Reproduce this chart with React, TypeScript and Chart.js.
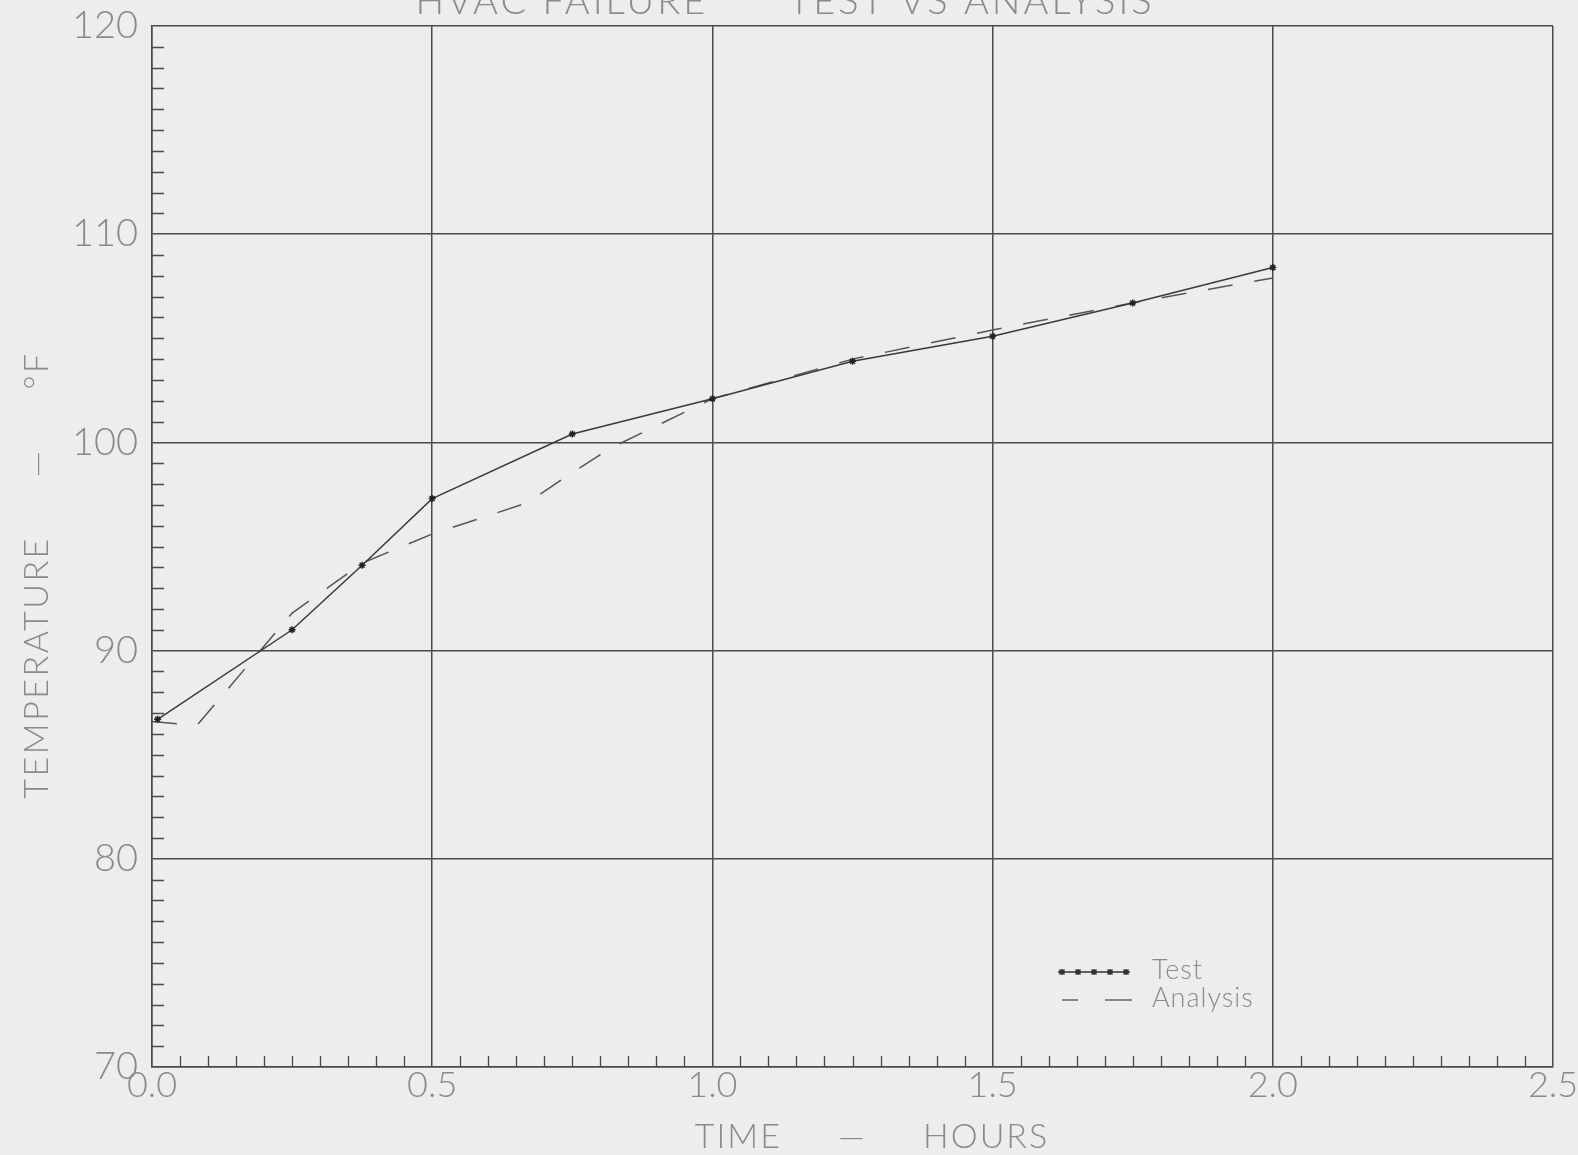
import React, { useEffect, useRef } from "react";
import { Chart, registerables } from "chart.js";

Chart.register(...registerables);

// ---- data ----
const testTime = [0.01, 0.25, 0.375, 0.5, 0.75, 1.0, 1.25, 1.5, 1.75, 2.0];
const testTemp = [86.7, 91.0, 94.1, 97.3, 100.4, 102.1, 103.9, 105.1, 106.7, 108.4];

const analysisTime = [0.0, 0.08, 0.25, 0.375, 0.5, 0.67, 0.75, 0.82, 1.0, 1.25, 1.5, 1.75, 2.0];
const analysisTemp = [86.6, 86.4, 91.8, 94.2, 95.6, 97.1, 98.55, 99.75, 102.1, 104.0, 105.4, 106.7, 107.9];

const xRange = [0, 2.5];
const xStep = 0.5;
const xMinorStep = 0.05;
const yRange = [70, 120];
const yStep = 10;
const yMinorStep = 1;

const titleText = "HVAC FAILURE      TEST VS ANALYSIS";
const xTitleText = "TIME     —     HOURS";
const yTitleText = "TEMPERATURE     —     °F";
const seriesNames = ["Test", "Analysis"];

const FONT = "Lato, 'Open Sans', 'DejaVu Sans', sans-serif";
const TEXT = "#8a8a8a";
const INK = "#4a4a4a";
const BG = "#ededed";

const decor = {
  id: "decor",
  beforeDraw(chart: any) {
    const { ctx, width, height } = chart;
    ctx.save();
    ctx.fillStyle = BG;
    ctx.fillRect(0, 0, width, height);
    ctx.restore();
  },
  afterDraw(chart: any) {
    const { ctx, chartArea } = chart;
    const xs = chart.scales.x;
    const ys = chart.scales.y;
    ctx.save();
    // minor ticks
    ctx.strokeStyle = INK;
    ctx.lineWidth = 1.3;
    ctx.beginPath();
    const ny = Math.round((yRange[1] - yRange[0]) / yMinorStep);
    const ratioY = Math.round(yStep / yMinorStep);
    for (let i = 1; i < ny; i++) {
      if (i % ratioY === 0) continue;
      const py = Math.round(ys.getPixelForValue(yRange[0] + i * yMinorStep)) + 0.5;
      ctx.moveTo(chartArea.left, py);
      ctx.lineTo(chartArea.left + 12, py);
    }
    const nx = Math.round((xRange[1] - xRange[0]) / xMinorStep);
    const ratioX = Math.round(xStep / xMinorStep);
    for (let i = 1; i < nx; i++) {
      if (i % ratioX === 0) continue;
      const px = Math.round(xs.getPixelForValue(xRange[0] + i * xMinorStep)) + 0.5;
      ctx.moveTo(px, chartArea.bottom);
      ctx.lineTo(px, chartArea.bottom - 11);
    }
    ctx.stroke();

    // titles
    ctx.fillStyle = TEXT;
    ctx.font = `300 38px ${FONT}`;
    (ctx as any).letterSpacing = "3px";
    ctx.textAlign = "center";
    ctx.textBaseline = "alphabetic";
    ctx.fillText(titleText, 785, 14);
    ctx.font = `300 34px ${FONT}`;
    (ctx as any).letterSpacing = "2px";
    ctx.fillText(xTitleText, 872, 1148);

    ctx.save();
    ctx.translate(48, 575);
    ctx.rotate(-Math.PI / 2);
    ctx.textBaseline = "alphabetic";
    (ctx as any).letterSpacing = "2.5px";
    ctx.fillText(yTitleText, 0, 0);
    ctx.restore();

    // legend
    const lx = chartArea.left + 906;
    const ly1 = 972;
    const ly2 = 1000;
    ctx.strokeStyle = "#333";
    ctx.lineWidth = 1.5;
    ctx.setLineDash([]);
    ctx.beginPath();
    ctx.moveTo(lx, ly1);
    ctx.lineTo(lx + 72, ly1);
    ctx.stroke();
    for (let k = 0; k < 5; k++) {
      const cx = lx + 4 + k * 16;
      ctx.beginPath();
      ctx.moveTo(cx - 3, ly1);
      ctx.lineTo(cx + 3, ly1);
      ctx.moveTo(cx, ly1 - 3);
      ctx.lineTo(cx, ly1 + 3);
      ctx.moveTo(cx - 2.5, ly1 - 2.5);
      ctx.lineTo(cx + 2.5, ly1 + 2.5);
      ctx.moveTo(cx - 2.5, ly1 + 2.5);
      ctx.lineTo(cx + 2.5, ly1 - 2.5);
      ctx.stroke();
    }
    ctx.strokeStyle = "#666";
    ctx.beginPath();
    ctx.moveTo(lx + 4, ly2);
    ctx.lineTo(lx + 20, ly2);
    ctx.moveTo(lx + 47, ly2);
    ctx.lineTo(lx + 74, ly2);
    ctx.stroke();
    ctx.fillStyle = TEXT;
    ctx.font = `300 27px ${FONT}`;
    (ctx as any).letterSpacing = "1px";
    ctx.textAlign = "left";
    ctx.textBaseline = "middle";
    ctx.fillText(seriesNames[0], lx + 94, ly1 - 2);
    ctx.fillText(seriesNames[1], lx + 94, ly2 - 2);
    ctx.restore();
  },
};

export default function App() {
  const ref = useRef<HTMLCanvasElement | null>(null);
  useEffect(() => {
    document.body.style.margin = "0";
    document.body.style.background = BG;
    const canvas = ref.current;
    if (!canvas) return;
    const chart = new Chart(canvas, {
      type: "scatter",
      data: {
        datasets: [
          {
            label: seriesNames[0],
            data: testTime.map((t, i) => ({ x: t, y: testTemp[i] })),
            showLine: true,
            borderColor: "#3a3a3a",
            borderWidth: 1.5,
            pointStyle: "star",
            pointRadius: 3.5,
            pointBorderWidth: 1.5,
            pointBorderColor: "#222",
            pointBackgroundColor: "#222",
          },
          {
            label: seriesNames[1],
            data: analysisTime.map((t, i) => ({ x: t, y: analysisTemp[i] })),
            showLine: true,
            borderColor: "#555",
            borderWidth: 1.5,
            borderDash: [25, 22],
            pointRadius: 0,
          },
        ],
      },
      options: {
        animation: false,
        responsive: false,
        layout: { padding: { top: 26, right: 25, left: 0, bottom: 0 } },
        plugins: {
          legend: { display: false },
          title: { display: false },
          tooltip: { enabled: false },
        },
        scales: {
          x: {
            type: "linear",
            min: xRange[0],
            max: xRange[1],
            afterFit: (s: any) => {
              s.height = 88;
              s.paddingLeft = 0;
              s.paddingRight = 0;
            },
            ticks: {
              stepSize: xStep,
              autoSkip: false,
              maxRotation: 0,
              padding: -3,
              color: TEXT,
              font: { family: FONT, size: 36, weight: "300" as any },
              callback: (v: any) => Number(v).toFixed(1),
            },
            grid: { color: INK, lineWidth: 1.5, drawTicks: false },
            border: { color: INK, width: 1.5 },
          },
          y: {
            type: "linear",
            min: yRange[0],
            max: yRange[1],
            afterFit: (s: any) => {
              s.width = 152;
              s.paddingTop = 0;
              s.paddingBottom = 0;
            },
            ticks: {
              stepSize: yStep,
              padding: 14,
              color: TEXT,
              font: { family: FONT, size: 38, weight: "300" as any },
            },
            grid: { color: INK, lineWidth: 1.5, drawTicks: false },
            border: { color: INK, width: 1.5 },
          },
        },
      },
      plugins: [decor],
    });
    return () => chart.destroy();
  }, []);
  return (
    <div style={{ width: 1578, height: 1155, background: BG }}>
      <canvas ref={ref} width={1578} height={1155} style={{ display: "block" }} />
    </div>
  );
}
